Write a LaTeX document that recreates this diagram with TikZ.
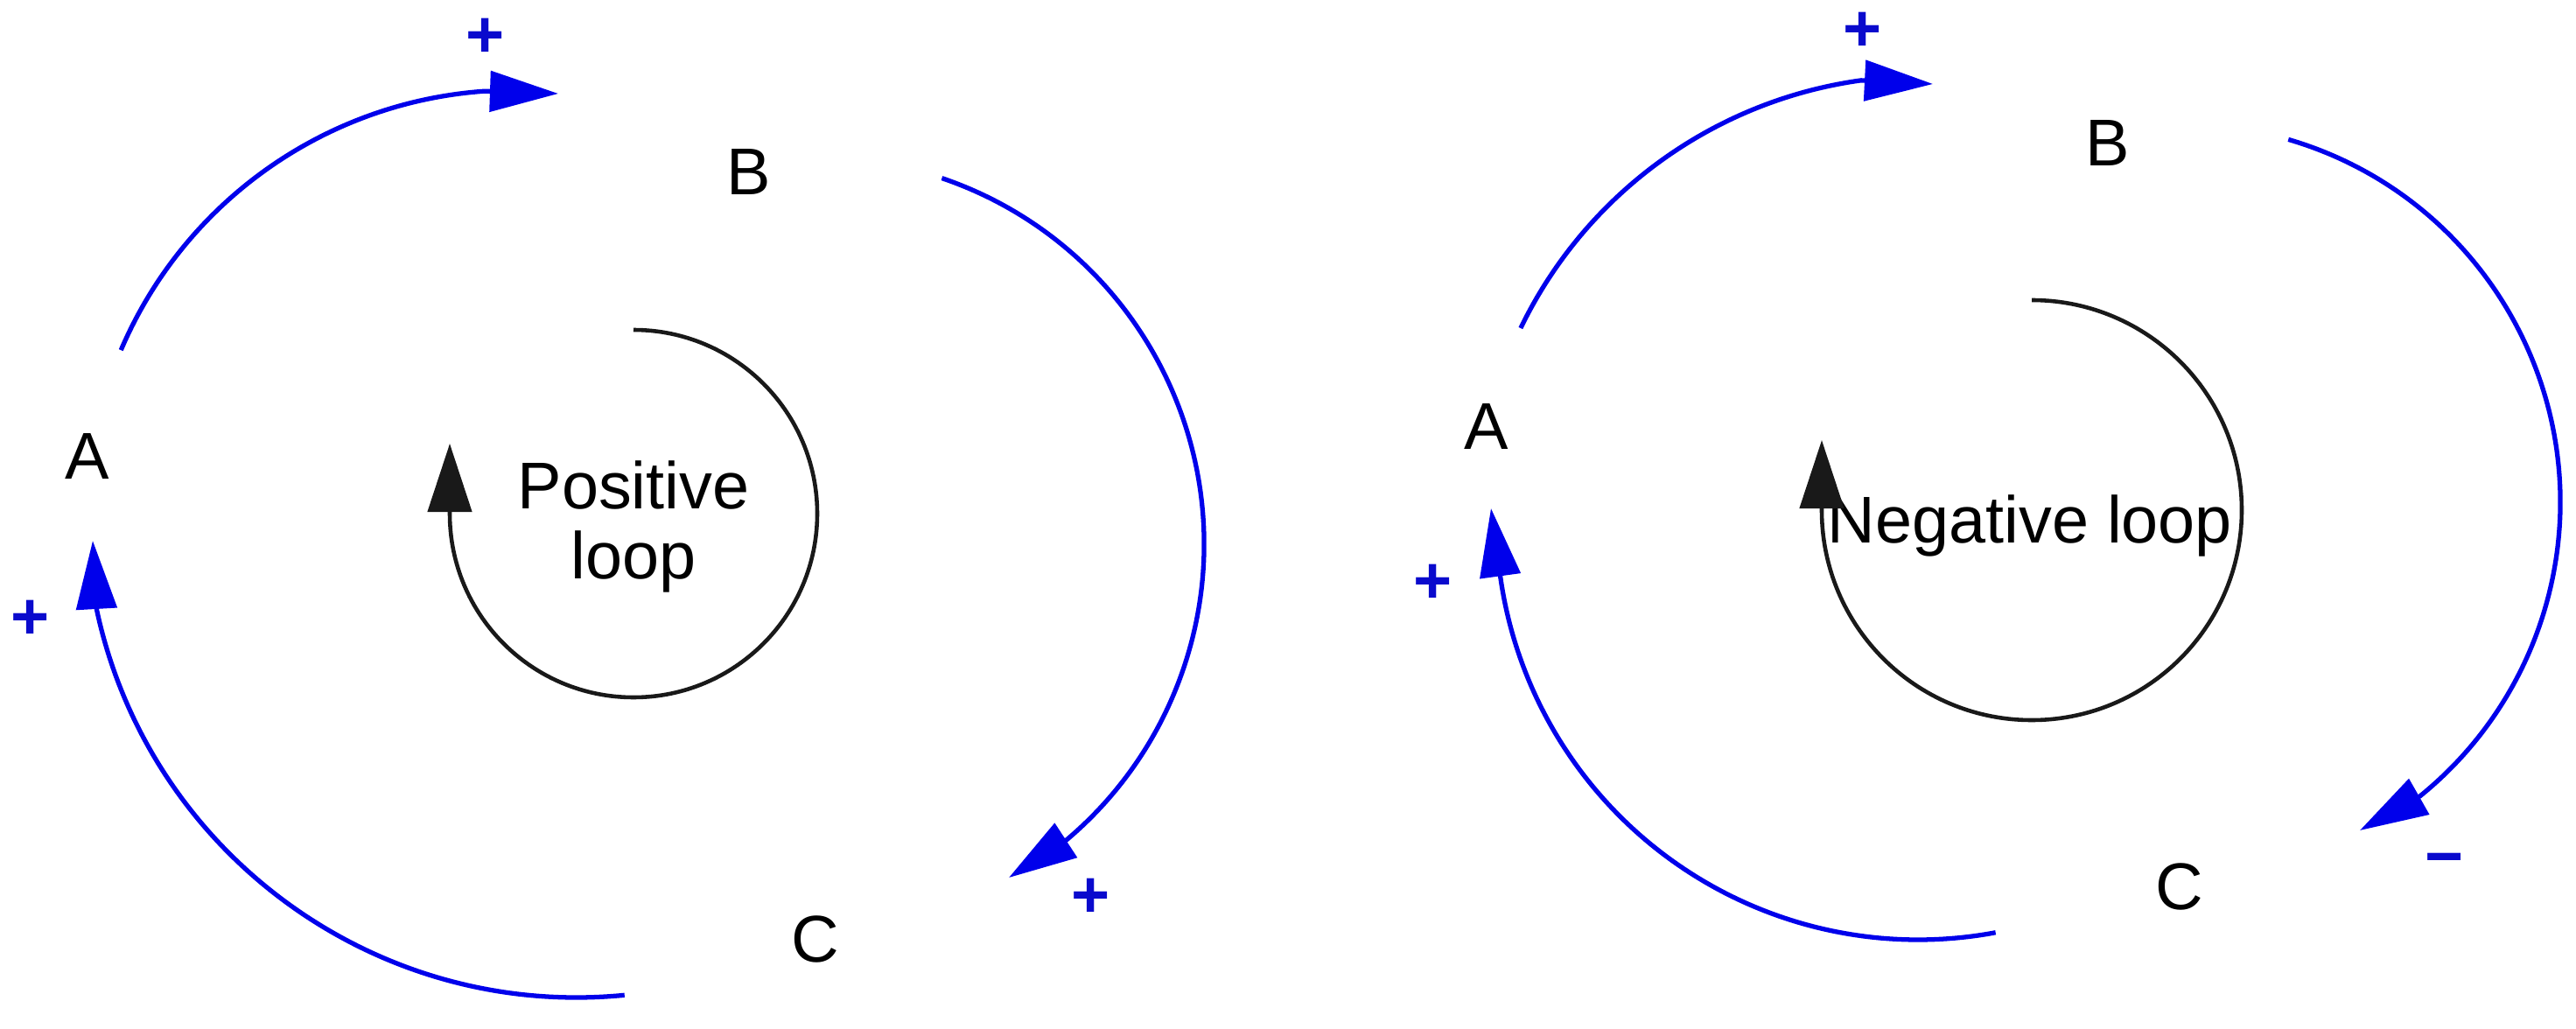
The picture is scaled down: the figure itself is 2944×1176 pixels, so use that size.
\documentclass[tikz,border=0pt]{standalone}
\usepackage{fontspec}
\setmainfont{Liberation Sans}
\usetikzlibrary{arrows.meta,calc}
\definecolor{linkblue}{RGB}{0,0,235}
\definecolor{signblue}{RGB}{10,10,205}
\definecolor{loopblack}{RGB}{25,25,25}
\begin{document}
\begin{tikzpicture}[x=0.01cm, y=-0.01cm,
  lbl/.style={font=\fontsize{21.5pt}{22.5pt}\selectfont, inner sep=0pt, anchor=base},
  sign/.style={font=\fontsize{21.5pt}{22.5pt}\selectfont\bfseries, text=signblue, inner sep=0pt, anchor=base},
  looplbl/.style={font=\fontsize{21.5pt}{22.5pt}\selectfont, inner sep=0pt, align=center},
  link/.style={draw=linkblue, line width=1.5pt, -{Triangle[length=0.78cm, width=0.46cm]}},
  looparc/.style={draw=loopblack, line width=1.3pt, -{Triangle[length=0.78cm, width=0.5cm]}},
]
\fill[white] (0,0) rectangle (2944,1176);
\useasboundingbox (0,0) rectangle (2944,1176);

% ---------------- left: positive loop ----------------
\node[lbl] (A1) at (100,547) {A};
\node[lbl] (B1) at (856,222) {B};
\node[lbl] (C1) at (932,1099) {C};
\node[looplbl] (L1) at (724,602) {Positive\\loop};

\coordinate (oAB1) at (588,592);
\coordinate (oBC1) at (934,622);
\coordinate (oCA1) at (659,579);
\coordinate (oL1) at (724,587);

\coordinate (sAB1) at ($(oAB1)+(-156.9:489)$);
\coordinate (sBC1) at ($(oBC1)+(-71.2:442)$);
\coordinate (sCA1) at ($(oCA1)+(84.4:561)$);
\coordinate (sL1) at ($(oL1)+(-90:210)$);

\coordinate (tAB1) at (638,107);
\coordinate (tBC1) at (1153,1003);
\coordinate (tCA1) at (106,618);

\draw[link] (sAB1) arc[start angle=-156.9, end angle=-94.0, radius=489] -- (tAB1);
\draw[link] (sBC1) arc[start angle=-71.2, end angle=49.9, radius=442] -- (tBC1);
\draw[link] (sCA1) arc[start angle=84.4, end angle=167.9, radius=561] -- (tCA1);
\draw[looparc] (sL1) arc[start angle=-90, end angle=180, radius=210] -- ++(0,-80);

\node[sign] (pAB1) at (555,66) {+};
\node[sign] (pBC1) at (1247,1048) {+};
\node[sign] (pCA1) at (35,730) {+};

% ---------------- right: negative loop ----------------
\node[lbl] (A2) at (1699,513) {A};
\node[lbl] (B2) at (2409,190) {B};
\node[lbl] (C2) at (2491,1039) {C};
\node[lbl] (L2) at (2320,620) {Negative loop};

\coordinate (oAB2) at (2197,597);
\coordinate (oBC2) at (2494,574);
\coordinate (oCA2) at (2192,592);
\coordinate (oL2) at (2322,583);

\coordinate (sAB2) at ($(oAB2)+(-154.2:510)$);
\coordinate (sBC2) at ($(oBC2)+(-73.7:432)$);
\coordinate (sCA2) at ($(oCA2)+(79.4:482)$);
\coordinate (sL2) at ($(oL2)+(-90:240)$);

\coordinate (tAB2) at (2209,96);
\coordinate (tBC2) at (2697,949);
\coordinate (tCA2) at (1704,581);

\draw[link] (sAB2) arc[start angle=-154.2, end angle=-97.9, radius=510] -- (tAB2);
\draw[link] (sBC2) arc[start angle=-73.7, end angle=51.0, radius=432] -- (tBC2);
\draw[link] (sCA2) arc[start angle=79.4, end angle=172.0, radius=482] -- (tCA2);
\draw[looparc] (sL2) arc[start angle=-90, end angle=180, radius=240] -- ++(0,-80);

\node[sign] (pAB2) at (2129,59) {+};
\node[sign] (pBC2) at (2794,1004) {−};
\node[sign] (pCA2) at (1638,689) {+};
\end{tikzpicture}
\end{document}
